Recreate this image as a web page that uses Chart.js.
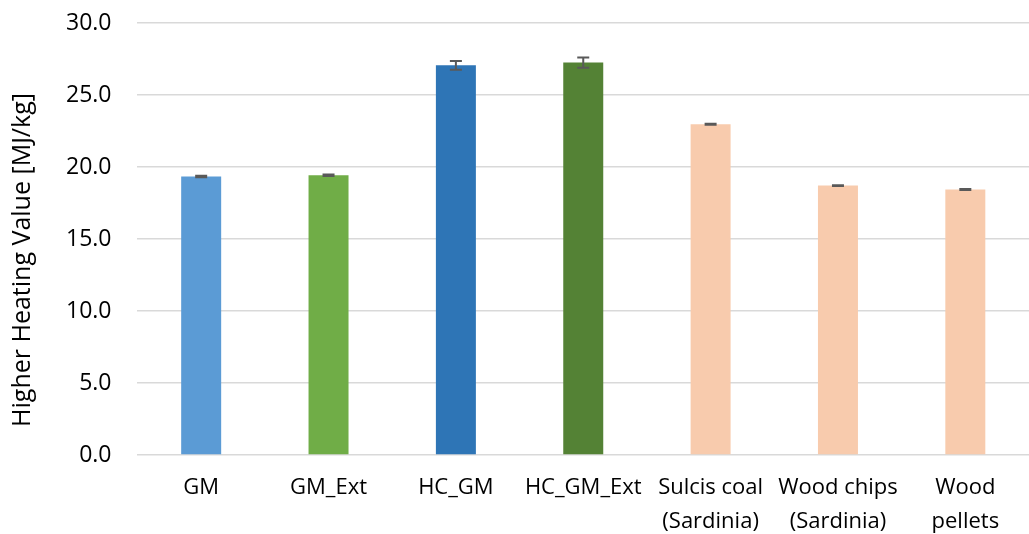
<!DOCTYPE html>
<html>
<head>
<meta charset="utf-8">
<script src="https://cdn.jsdelivr.net/npm/chart.js@4/dist/chart.umd.min.js"></script>
<style>
  html, body { margin: 0; padding: 0; background: #ffffff; }
  #wrap { width: 1029px; height: 534px; position: relative; }
</style>
</head>
<body>
<div id="wrap"><canvas id="c" width="1029" height="534"></canvas></div>
<script>
// Fuel samples and their higher heating values (MJ/kg)
const categories = [
  'GM', 'GM_Ext', 'HC_GM', 'HC_GM_Ext',
  ['Sulcis coal', '(Sardinia)'], ['Wood chips', '(Sardinia)'], ['Wood', 'pellets']
];
const hhvValues = [19.34, 19.43, 27.06, 27.25, 22.97, 18.71, 18.44];
const hhvErrors = [0.05, 0.05, 0.30, 0.35, 0.03, 0.03, 0.03];
const barColors = ['#5b9bd5', '#70ad47', '#2e75b6', '#548235', '#f8cbad', '#f8cbad', '#f8cbad'];
const yTicks = [0, 5, 10, 15, 20, 25, 30];
const yTitle = 'Higher Heating Value [MJ/kg]';

const font = "'Open Sans', 'Liberation Sans', sans-serif";

// Draws symmetric error bars on top of each bar using the y scale
const errorBarPlugin = {
  id: 'errorBars',
  afterDatasetsDraw(chart) {
    const ctx = chart.ctx;
    const yScale = chart.scales.y;
    const meta = chart.getDatasetMeta(0);
    ctx.save();
    ctx.strokeStyle = '#595959';
    ctx.lineWidth = 2;
    meta.data.forEach((bar, i) => {
      const v = hhvValues[i], e = hhvErrors[i];
      const yHi = yScale.getPixelForValue(v + e);
      const yLo = yScale.getPixelForValue(v - e);
      const x = bar.x;
      ctx.beginPath();
      ctx.moveTo(x, yHi); ctx.lineTo(x, yLo);
      ctx.moveTo(x - 6, yHi); ctx.lineTo(x + 6, yHi);
      ctx.moveTo(x - 6, yLo); ctx.lineTo(x + 6, yLo);
      ctx.stroke();
    });
    ctx.restore();
  }
};

// Vertical axis title, sitting a little below the middle of the plot
const yTitlePlugin = {
  id: 'yTitle',
  afterDraw(chart) {
    const ctx = chart.ctx;
    const area = chart.chartArea;
    const cy = (area.top + area.bottom) / 2 + 21;
    ctx.save();
    ctx.translate(23, cy);
    ctx.rotate(-Math.PI / 2);
    ctx.font = '25px ' + font;
    ctx.fillStyle = '#000000';
    ctx.textAlign = 'center';
    ctx.textBaseline = 'middle';
    ctx.fillText(yTitle, 0, 0);
    ctx.restore();
  }
};

new Chart(document.getElementById('c'), {
  type: 'bar',
  data: {
    labels: categories,
    datasets: [{
      data: hhvValues,
      backgroundColor: barColors,
      borderWidth: 0,
      barPercentage: 0.314,
      categoryPercentage: 1.0
    }]
  },
  options: {
    responsive: false,
    animation: false,
    layout: { padding: { left: 40, right: 0, top: 23, bottom: 0 } },
    plugins: {
      legend: { display: false },
      tooltip: { enabled: false }
    },
    scales: {
      x: {
        grid: { display: false, drawTicks: false },
        border: { display: false },
        afterFit(axis) {
          axis.height = 79;
          axis.paddingTop = 0;
          axis.paddingBottom = 0;
        },
        ticks: {
          color: '#000000',
          font: { family: font, size: 22, lineHeight: 1.55 },
          padding: 16,
          maxRotation: 0,
          autoSkip: false
        }
      },
      y: {
        min: 0,
        max: 30,
        afterBuildTicks(axis) { axis.ticks = yTicks.map(v => ({ value: v })); },
        afterFit(axis) {
          axis.paddingTop = 0;
          axis.paddingBottom = 0;
        },
        grid: { color: '#d9d9d9', lineWidth: 1.5, drawTicks: false },
        border: { display: false },
        ticks: {
          color: '#000000',
          font: { family: font, size: 23 },
          padding: 26,
          callback: v => Number(v).toFixed(1)
        },
        title: { display: false }
      }
    }
  },
  plugins: [errorBarPlugin, yTitlePlugin]
});
</script>
</body>
</html>
